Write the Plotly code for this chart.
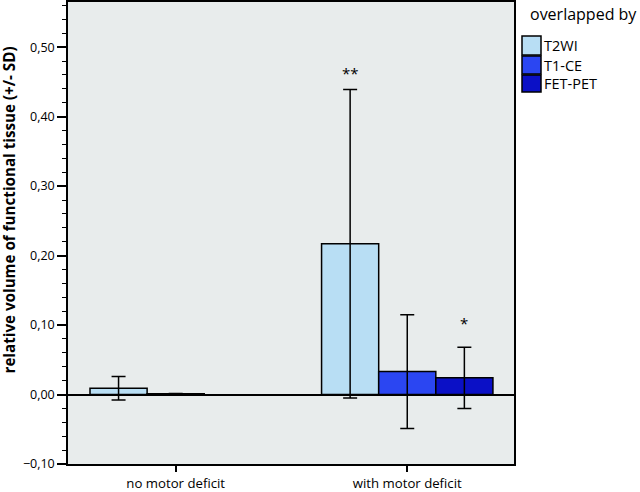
import plotly.graph_objects as go

categories = ["no motor deficit", "with motor deficit"]
series_names = ["T2WI", "T1-CE", "FET-PET"]
t2wi_mean = [0.009, 0.217]
t2wi_sd = [0.017, 0.222]
t1ce_mean = [0.001, 0.033]
t1ce_sd = [0.0005, 0.082]
fetpet_mean = [None, 0.024]
fetpet_sd = [None, 0.044]
colors = ["#B8DEF4", "#2B46F2", "#0B10C6"]
sig_labels = ["**", "*"]
sig_y = [0.463, 0.103]
sig_series = ["T2WI", "FET-PET"]
legend_title = "overlapped by"
y_title = "relative volume of functional tissue (+/- SD)"

means = [t2wi_mean, t1ce_mean, fetpet_mean]
sds = [t2wi_sd, t1ce_sd, fetpet_sd]

FONT = "Open Sans"
L, R, T, B = 68, 126, 2, 28
W, H = 640, 492
PW, PH = W - L - R, H - T - B


def px_x(x):
    return (x - L) / PW


def px_y(y):
    return (H - B - y) / PH


fig = go.Figure()
for name, m, s, c in zip(series_names, means, sds, colors):
    fig.add_trace(go.Bar(
        x=categories, y=m, name=name, showlegend=False,
        marker=dict(color=c, line=dict(color="black", width=1.5)),
        error_y=dict(type="data", array=s, visible=True, color="black",
                     thickness=1.5, width=7),
    ))

fig.update_layout(
    barmode="group",
    bargap=0.26,
    bargroupgap=0,
    width=W, height=H,
    margin=dict(l=L, r=R, t=T, b=B, autoexpand=False),
    paper_bgcolor="white",
    plot_bgcolor="#E8ECEC",
    separators=",.",
    font=dict(family=FONT, color="black", size=12),
    showlegend=False,
)
fig.update_xaxes(
    range=[-0.465, 1.461], automargin=False,
    showline=True, linecolor="black", linewidth=1.5, mirror=True,
    ticks="outside", ticklen=6, tickwidth=1.5, tickcolor="black",
    tickfont=dict(size=13.2), showgrid=False, ticklabelstandoff=0,
)
fig.update_yaxes(
    range=[-0.1, 0.565], automargin=False,
    dtick=0.1, tick0=0, tickformat=".2f",
    showline=True, linecolor="black", linewidth=1.5, mirror=True,
    ticks="outside", ticklen=9, tickwidth=1.5, tickcolor="black",
    minor=dict(dtick=0.02, ticks="outside", ticklen=4, tickwidth=1.2, tickcolor="black", showgrid=False),
    showgrid=False,
    zeroline=True, zerolinecolor="black", zerolinewidth=2,
    tickfont=dict(size=12.5),
    ticklabelstandoff=0,
)

# y-axis title
fig.add_annotation(
    x=px_x(8.5), y=px_y(210), xref="paper", yref="paper",
    text="<b>" + y_title + "</b>", textangle=-90, showarrow=False,
    xanchor="center", yanchor="middle", font=dict(size=15.2),
)

# significance markers
offsets = {"T2WI": -1, "T1-CE": 0, "FET-PET": 1}
for lab, yv, ser in zip(sig_labels, sig_y, sig_series):
    fig.add_annotation(
        x=1 + offsets[ser] * 0.74 / 3, y=yv, xref="x", yref="y",
        text=lab, showarrow=False, font=dict(size=15),
    )

# legend (drawn manually)
fig.add_annotation(
    x=px_x(529), y=px_y(14), xref="paper", yref="paper",
    text=legend_title, showarrow=False, xanchor="left", yanchor="middle",
    font=dict(size=16), borderpad=0,
)
sq = [(36, 55), (56, 74), (75, 92)]
for (y0, y1), name, c in zip(sq, series_names, colors):
    fig.add_shape(
        type="rect", xref="paper", yref="paper",
        x0=px_x(522), x1=px_x(541), y0=px_y(y1), y1=px_y(y0),
        fillcolor=c, line=dict(color="black", width=1.5),
    )
    fig.add_annotation(
        x=px_x(543), y=px_y((y0 + y1) / 2), xref="paper", yref="paper",
        text=name, showarrow=False, xanchor="left", yanchor="middle",
        font=dict(size=14.5), borderpad=0,
    )

fig.write_html("out.html", config={"displayModeBar": False})

with open("out.html", "r", encoding="utf-8") as f:
    html = f.read()
html = html.replace("<head>", "<head><style>html,body{margin:0;padding:0;overflow:hidden;}</style>", 1)
with open("out.html", "w", encoding="utf-8") as f:
    f.write(html)
